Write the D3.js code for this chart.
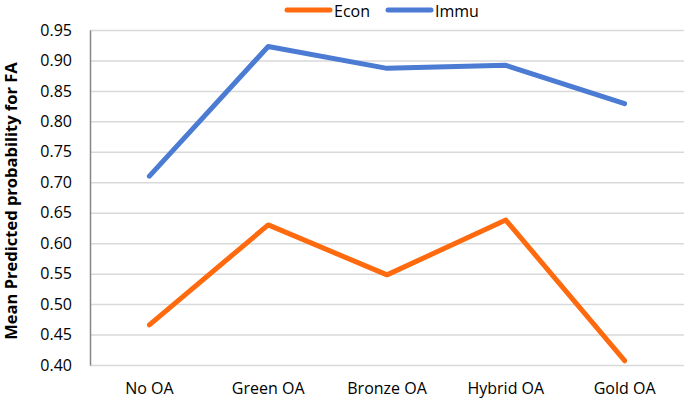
<!DOCTYPE html>
<html>
<head>
<meta charset="utf-8">
<script src="https://cdn.jsdelivr.net/npm/d3@7"></script>
<style>
  body { margin: 0; background: #fff; }
  text { font-family: "Open Sans", sans-serif; fill: #000; }
</style>
</head>
<body>
<div id="board"></div>
<script>
// categories and series
const categories = ["No OA", "Green OA", "Bronze OA", "Hybrid OA", "Gold OA"];
const econ = [0.466, 0.630, 0.548, 0.638, 0.407];
const immu = [0.710, 0.923, 0.887, 0.892, 0.829];
const yTicks = [0.40, 0.45, 0.50, 0.55, 0.60, 0.65, 0.70, 0.75, 0.80, 0.85, 0.90, 0.95];
const seriesNames = ["Econ", "Immu"];
const seriesColors = ["#ff6a0e", "#4b7bd3"];

// dimensions
const width = 685;
const height = 401;
const marginTop = 30;
const marginRight = 1;
const marginBottom = 36;
const marginLeft = 90;

const x = d3.scaleBand()
    .domain(categories)
    .range([marginLeft, width - marginRight]);

const y = d3.scaleLinear()
    .domain([0.40, 0.95])
    .range([height - marginBottom, marginTop]);

const svg = d3.select("#board").append("svg")
    .attr("width", width)
    .attr("height", height);

// gridlines
svg.append("g")
    .attr("transform", `translate(${marginLeft},0)`)
    .call(d3.axisLeft(y).tickValues(yTicks).tickSize(-(width - marginLeft - marginRight)).tickFormat(""))
    .call(g => g.select(".domain").remove())
    .call(g => g.selectAll("line").attr("stroke", "#d9d9d9").attr("stroke-width", 1.5));

// y-axis
svg.append("g")
    .attr("transform", `translate(${marginLeft},0)`)
    .call(d3.axisLeft(y).tickValues(yTicks).tickSize(0).tickPadding(18).tickFormat(d3.format(".2f")))
    .call(g => g.select(".domain").attr("stroke", "#868686").attr("stroke-width", 1.5))
    .call(g => g.selectAll("text").style("font-size", "16px").style("font-family", "'Open Sans', sans-serif"));

// x-axis labels
svg.append("g")
    .attr("transform", `translate(0,${height - marginBottom})`)
    .call(d3.axisBottom(x).tickSize(0).tickPadding(18))
    .call(g => g.select(".domain").remove())
    .call(g => g.selectAll("text").style("font-size", "16px").style("font-family", "'Open Sans', sans-serif"));

// y title
svg.append("text")
    .attr("transform", `translate(17,201) rotate(-90)`)
    .attr("text-anchor", "middle")
    .style("font-size", "16.5px")
    .style("font-weight", "bold")
    .text("Mean Predicted probability for FA");

// lines
const line = d3.line()
    .x((d, i) => x(categories[i]) + x.bandwidth() / 2)
    .y(d => y(d));

[econ, immu].forEach((s, k) => {
  svg.append("path")
      .datum(s)
      .attr("fill", "none")
      .attr("stroke", seriesColors[k])
      .attr("stroke-width", 5)
      .attr("stroke-linejoin", "round")
      .attr("stroke-linecap", "round")
      .attr("d", line);
});

// legend
const legend = svg.append("g");
const legendX = [287, 388];
seriesNames.forEach((name, k) => {
  legend.append("line")
      .attr("x1", legendX[k]).attr("x2", legendX[k] + 43)
      .attr("y1", 10).attr("y2", 10)
      .attr("stroke", seriesColors[k])
      .attr("stroke-width", 5)
      .attr("stroke-linecap", "round");
  legend.append("text")
      .attr("x", legendX[k] + 47)
      .attr("y", 17)
      .style("font-size", "16px")
      .text(name);
});
</script>
</body>
</html>
